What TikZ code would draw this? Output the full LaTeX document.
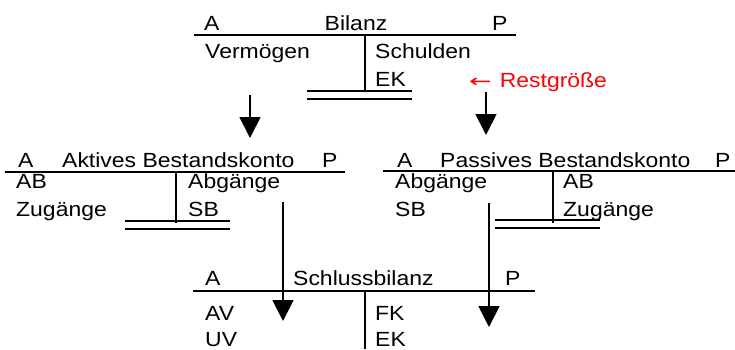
\documentclass[tikz,border=0pt]{standalone}
\usepackage{fontspec}
\setmainfont{Liberation Sans}[FakeStretch=1.12]
\newfontfamily\arrowfont{DejaVu Sans}[FakeStretch=1.5]
\usetikzlibrary{arrows.meta}
\tikzset{
  txt/.style={anchor=base west, inner sep=0pt, font=\fontsize{20.5}{24}\selectfont},
  ctxt/.style={anchor=base, inner sep=0pt, font=\fontsize{20.5}{24}\selectfont},
  rule/.style={line width=1.8pt},
  flow/.style={line width=1.8pt, -{Triangle[width=21pt,length=21pt]}},
}
\begin{document}
\begin{tikzpicture}[x=1pt,y=-1pt]
\useasboundingbox (0,0) rectangle (735,349);

% --- Bilanz ---
\node[txt] (bA) at (204,30) {A};
\node[ctxt] (bT) at (356,30) {Bilanz};
\node[txt] (bP) at (492,30) {P};
\draw[rule] (194,35) -- (516,35);
\draw[rule] (365,35) -- (365,92);
\node[txt] (bV) at (205,58) {Vermögen};
\node[txt] (bS) at (375,58) {Schulden};
\node[txt] (bE) at (375,86) {EK};
\draw[rule] (307,91) -- (412,91);
\draw[rule] (307,99) -- (412,99);
\node[txt, text=red] (rest) at (469,87) {{\arrowfont\fontsize{18}{24}\selectfont ←}\hspace{8pt}Restgröße};

% arrows from Bilanz to the two accounts
\coordinate (a1s) at (250,95);  \coordinate (a1e) at (250,138);
\coordinate (a2s) at (486,92);  \coordinate (a2e) at (486,135);
\draw[flow] (a1s) -- (a1e);
\draw[flow] (a2s) -- (a2e);

% --- Aktives Bestandskonto ---
\node[txt] (kA) at (18,167) {A};
\node[txt] (kT) at (62,167) {Aktives Bestandskonto};
\node[txt] (kP) at (322,167) {P};
\draw[rule] (5,172) -- (345,172);
\draw[rule] (176,172) -- (176,223);
\node[txt] (kAB) at (16,188) {AB};
\node[txt] (kZ) at (16,216) {Zugänge};
\node[txt] (kAbg) at (188,188) {Abgänge};
\node[txt] (kSB) at (188,216) {SB};
\draw[rule] (125,221) -- (230,221);
\draw[rule] (125,229) -- (230,229);

% --- Passives Bestandskonto ---
\node[txt] (pA) at (397,167) {A};
\node[txt] (pT) at (440,167) {Passives Bestandskonto};
\node[txt] (pP) at (715,167) {P};
\draw[rule] (383,171) -- (735,171);
\draw[rule] (553,171) -- (553,223);
\node[txt] (pAbg) at (395,188) {Abgänge};
\node[txt] (pSB) at (395,216) {SB};
\node[txt] (pAB) at (563,188) {AB};
\node[txt] (pZ) at (563,216) {Zugänge};
\draw[rule] (495,220) -- (600,220);
\draw[rule] (495,228) -- (600,228);

% arrows from the accounts into the Schlussbilanz
\coordinate (a3s) at (283,202); \coordinate (a3e) at (283,321);
\coordinate (a4s) at (489,203); \coordinate (a4e) at (489,327);
\draw[flow] (a3s) -- (a3e);
\draw[flow] (a4s) -- (a4e);

% --- Schlussbilanz ---
\node[txt] (sA) at (205,285) {A};
\node[txt] (sT) at (293,285) {Schlussbilanz};
\node[txt] (sP) at (505,285) {P};
\draw[rule] (193,291) -- (535,291);
\draw[rule] (365,291) -- (365,349);
\node[txt] (sAV) at (205,320) {AV};
\node[txt] (sUV) at (205,346) {UV};
\node[txt] (sFK) at (375,320) {FK};
\node[txt] (sEK) at (375,346) {EK};
\end{tikzpicture}
\end{document}
